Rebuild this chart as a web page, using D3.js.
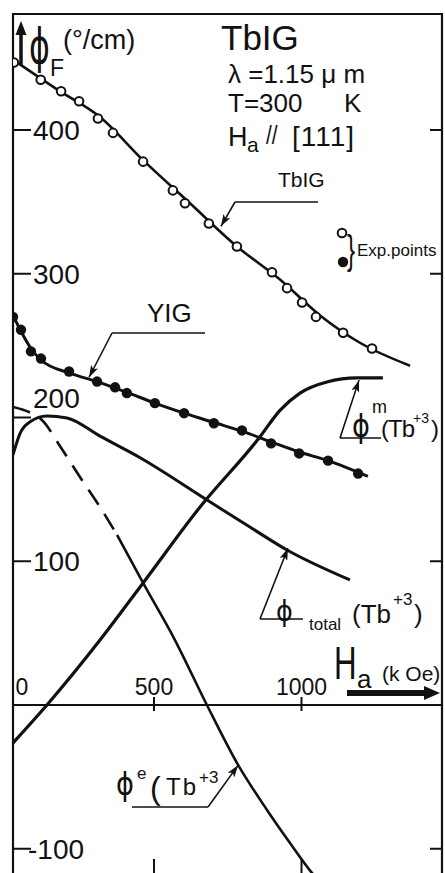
<!DOCTYPE html>
<html>
<head>
<meta charset="utf-8">
<script src="https://cdn.jsdelivr.net/npm/d3@7"></script>
<style>
  body { margin: 0; background: #fff; }
  text { font-family: "Liberation Sans", Arial, sans-serif; fill: #111; }
  .greek { font-family: "DejaVu Sans", sans-serif; }
</style>
</head>
<body>
<div id="chart"></div>
<script>
// ===========================================================
// DATA  (H in kOe, phi_F in deg/cm)
// ===========================================================
// TbIG experimental points (open circles)
var tbigH = [25, 116, 185, 246, 310, 361, 463, 564, 605, 686, 781, 900, 951, 1002, 1049, 1141, 1239];
var tbigV = [447, 435, 427, 420, 408, 398, 378, 358, 349, 335, 319, 301, 290, 280, 270, 259, 248];
// TbIG fitted curve
var tbigFitH = [22, 181, 317, 463, 622, 781, 927, 1063, 1198, 1368];
var tbigFitV = [449, 427, 409, 379, 349, 319, 296, 271, 252, 236];

// YIG experimental points (filled circles)
var yigH = [22, 49, 83, 117, 212, 307, 368, 408, 503, 602, 703, 798, 897, 992, 1090, 1192];
var yigV = [270, 261, 246, 241, 232, 225, 221, 217, 210, 203, 196, 191, 182, 175, 170, 161];
// YIG fitted curve
var yigFitH = [22, 49, 83, 117, 212, 307, 408, 503, 602, 703, 798, 897, 992, 1090, 1225];
var yigFitV = [271, 260, 248, 240, 231, 225, 217.5, 210, 203, 196.5, 190.5, 183, 176, 170, 159];

// phi total (Tb+3)
var totalH = [22, 46, 80, 137, 205, 317, 453, 680, 825, 951, 1164];
var totalV = [174, 189, 197, 201, 199.7, 187, 172, 142.6, 123.8, 107.8, 87];

// phi m (Tb+3)
var magH = [22, 137, 317, 463, 656, 856, 927, 995, 1086, 1188, 1276];
var magV = [-26.4, 0, 45.2, 84.9, 137.7, 185.7, 205, 217, 224.7, 227.5, 227.5];

// phi e (Tb+3): extrapolated part (dashed) and computed part (solid)
var elecDashH = [22, 90, 120, 181, 249, 317, 375];
var elecDashV = [207.3, 202.4, 198.3, 180.2, 158.6, 137.7, 118.3];
var elecH = [375, 463, 571, 676, 785, 883, 961, 1036, 1110];
var elecV = [118.3, 84.9, 45.2, 1.4, -41.7, -73, -96, -117, -134];

// tick labels
var yTicks = [400, 300, 200, 100, -100];
var yTicksRight = [400, 300, 100, -100];
var xTicks = [0, 500, 1000];

// ===========================================================
// SET UP
// ===========================================================
var svgWidth = 445;
var svgHeight = 873;
var frame = {left: 13, right: 442, top: 14, bottom: 885};

var svg = d3.select('#chart')
    .append('svg')
    .attr('width', svgWidth)
    .attr('height', svgHeight);

var x = d3.scaleLinear().domain([0, 1000]).range([6.5, 301.5]);
var y = d3.scaleLinear().domain([-100, 400]).range([848.75, 130]);

var defs = svg.append('defs');
defs.append('clipPath').attr('id', 'plotclip')
    .append('rect')
    .attr('x', frame.left).attr('y', frame.top)
    .attr('width', frame.right - frame.left).attr('height', frame.bottom - frame.top);

defs.append('marker')
    .attr('id', 'head')
    .attr('markerUnits', 'userSpaceOnUse')
    .attr('viewBox', '0 0 12 8')
    .attr('refX', 12).attr('refY', 4)
    .attr('markerWidth', 12).attr('markerHeight', 8)
    .attr('orient', 'auto')
    .append('path')
    .attr('d', 'M0,0 L12,4 L0,8 L3,4 Z')
    .attr('fill', '#111');

var zip = function(a, b) { return a.map(function(d, i) { return [d, b[i]]; }); };

var line = d3.line()
    .x(function(d) { return x(d[0]); })
    .y(function(d) { return y(d[1]); })
    .curve(d3.curveMonotoneX);

// text squeezed horizontally (hand lettering is narrow)
function narrowText(str, px, py, size, sx, sy, cls) {
    return svg.append('text')
        .attr('class', cls || null)
        .attr('transform', 'translate(' + px + ',' + py + ') scale(' + sx + ',' + sy + ')')
        .style('font-size', size + 'px')
        .text(str);
}

// ===========================================================
// FRAME & AXES
// ===========================================================
var axisG = svg.append('g').attr('stroke', '#111').attr('fill', 'none');
axisG.append('path')
    .attr('d', 'M' + frame.left + ',' + frame.bottom + 'V' + frame.top + 'H' + frame.right + 'V' + frame.bottom)
    .attr('stroke-width', 2.2);
// H axis at phi = 0
axisG.append('line')
    .attr('x1', frame.left).attr('x2', frame.right)
    .attr('y1', y(0)).attr('y2', y(0))
    .attr('stroke-width', 2);

// left ticks (inward)
axisG.selectAll('.lt').data(yTicks).enter().append('line')
    .attr('x1', frame.left).attr('x2', frame.left + 18)
    .attr('y1', function(d) { return y(d); }).attr('y2', function(d) { return y(d); })
    .attr('stroke-width', 2);
// right ticks (inward)
axisG.selectAll('.rt').data(yTicksRight).enter().append('line')
    .attr('x1', frame.right - 12).attr('x2', frame.right)
    .attr('y1', function(d) { return y(d); }).attr('y2', function(d) { return y(d); })
    .attr('stroke-width', 2);
// ticks crossing the H axis and at the bottom
axisG.selectAll('.xt').data(xTicks.slice(1)).enter().append('line')
    .attr('x1', function(d) { return x(d); }).attr('x2', function(d) { return x(d); })
    .attr('y1', y(0) - 8).attr('y2', y(0) + 6)
    .attr('stroke-width', 2);
axisG.selectAll('.bt').data(xTicks.slice(1)).enter().append('line')
    .attr('x1', function(d) { return x(d); }).attr('x2', function(d) { return x(d); })
    .attr('y1', 859).attr('y2', frame.bottom)
    .attr('stroke-width', 2);

// y tick labels
svg.selectAll('.ylab').data(yTicks).enter().append('text')
    .attr('x', function(d) { return d < 0 ? 28 : 33; })
    .attr('y', function(d) { return d === 200 ? y(d) - 10 : y(d) + 10; })
    .style('font-size', '28px')
    .text(function(d) { return d; });

// x tick labels
svg.selectAll('.xlab').data(xTicks).enter().append('text')
    .attr('x', function(d) { return d === 0 ? 22 : x(d); })
    .attr('y', y(0) - 10)
    .attr('text-anchor', 'middle')
    .style('font-size', '23px')
    .text(function(d) { return d; });

// vertical axis arrow + title
svg.append('line')
    .attr('x1', 21).attr('x2', 21).attr('y1', 65).attr('y2', 33)
    .attr('stroke', '#111').attr('stroke-width', 3.5);
svg.append('path').attr('d', 'M15.5,35 L21,21 L26.5,35 Z').attr('fill', '#111');
narrowText('ϕ', 29, 63, 44, 0.72, 1.1, 'greek');
svg.append('text').attr('x', 50).attr('y', 76).style('font-size', '23px').text('F');
svg.append('text').attr('x', 63).attr('y', 49).style('font-size', '27px').text('(°/cm)');

// horizontal axis title + arrow
narrowText('H', 334, 679, 46, 0.68, 1, null);
svg.append('text').attr('x', 357).attr('y', 688).style('font-size', '26px').text('a');
svg.append('text').attr('x', 382).attr('y', 681).style('font-size', '21px').text('(k Oe)');
svg.append('line')
    .attr('x1', 347).attr('x2', 426).attr('y1', 693).attr('y2', 693)
    .attr('stroke', '#111').attr('stroke-width', 6);
svg.append('path').attr('d', 'M424,686 L440,693 L424,700 Z').attr('fill', '#111');

// ===========================================================
// CURVES
// ===========================================================
var plot = svg.append('g').attr('clip-path', 'url(#plotclip)')
    .attr('fill', 'none').attr('stroke', '#111');

plot.append('path').attr('d', line(zip(tbigFitH, tbigFitV))).attr('stroke-width', 2.6);
plot.append('path').attr('d', line(zip(yigFitH, yigFitV))).attr('stroke-width', 3);
plot.append('path').attr('d', line(zip(totalH, totalV))).attr('stroke-width', 3);
plot.append('path').attr('d', line(zip(magH, magV))).attr('stroke-width', 3.2);
plot.append('path').attr('d', line(zip(elecDashH, elecDashV)))
    .attr('stroke-width', 2.6).attr('stroke-dasharray', '18,11');
plot.append('path').attr('d', line(zip(elecH, elecV))).attr('stroke-width', 2.6);

// experimental points
plot.selectAll('.tb').data(zip(tbigH, tbigV)).enter().append('circle')
    .attr('cx', function(d) { return x(d[0]); })
    .attr('cy', function(d) { return y(d[1]); })
    .attr('r', 4.3).attr('fill', '#fff').attr('stroke-width', 2);
plot.selectAll('.yg').data(zip(yigH, yigV)).enter().append('circle')
    .attr('cx', function(d) { return x(d[0]); })
    .attr('cy', function(d) { return y(d[1]); })
    .attr('r', 5.2).attr('fill', '#111').attr('stroke', 'none');

// ===========================================================
// LEADER LINES (tip on the curve, knee/end in pixels)
// ===========================================================
var leaders = [
    {H: 727, V: 333, knee: [235, 202], end: [318, 202]},
    {H: 280, V: 228, knee: [112, 333], end: [205, 333]},
    {H: 1195, V: 226, knee: [340, 438], end: [381, 438]},
    {H: 954, V: 109, knee: [260, 619], end: [303, 619]},
    {H: 785, V: -42, knee: [208, 807], end: [132, 807]}
];
var lg = svg.append('g').attr('fill', 'none').attr('stroke', '#111').attr('stroke-width', 1.6);
leaders.forEach(function(l) {
    lg.append('line').attr('x1', l.end[0]).attr('y1', l.end[1])
        .attr('x2', l.knee[0]).attr('y2', l.knee[1]);
    lg.append('line').attr('x1', l.knee[0]).attr('y1', l.knee[1])
        .attr('x2', x(l.H)).attr('y2', y(l.V))
        .attr('marker-end', 'url(#head)');
});

// ===========================================================
// LABELS
// ===========================================================
svg.append('text').attr('x', 221).attr('y', 50).style('font-size', '35px').text('TbIG');
svg.append('text').attr('x', 228).attr('y', 83).style('font-size', '26px')
    .style('white-space', 'pre').text('λ =1.15 μ m');
svg.append('text').attr('x', 228).attr('y', 112).style('font-size', '26px').text('T=300');
svg.append('text').attr('x', 344).attr('y', 112).style('font-size', '26px').text('K');
svg.append('text').attr('x', 228).attr('y', 146).style('font-size', '27px').text('H');
svg.append('text').attr('x', 247).attr('y', 152).style('font-size', '21px').text('a');
narrowText('//', 266, 144, 26, 0.8, 1, null);
svg.append('text').attr('x', 292).attr('y', 146).style('font-size', '28px')
    .style('letter-spacing', '1px').text('[111]');

svg.append('text').attr('x', 278).attr('y', 187).style('font-size', '21px').text('TbIG');
svg.append('text').attr('x', 147).attr('y', 322).style('font-size', '26px').text('YIG');

// Exp. points legend
svg.append('circle').attr('cx', 342).attr('cy', 233).attr('r', 4.3)
    .attr('fill', '#fff').attr('stroke', '#111').attr('stroke-width', 2);
svg.append('circle').attr('cx', 343).attr('cy', 262).attr('r', 5.2).attr('fill', '#111');
narrowText('}', 347, 264, 40, 0.6, 1, null);
svg.append('text').attr('x', 357).attr('y', 256).style('font-size', '17px').text('Exp.points');

// phi m (Tb+3)
narrowText('ϕ', 352, 437, 32, 0.85, 1, 'greek');
svg.append('text').attr('x', 372).attr('y', 413).style('font-size', '18px').text('m');
svg.append('text').attr('x', 381).attr('y', 437).style('font-size', '24px')
    .style('letter-spacing', '-1px').text('(Tb');
svg.append('text').attr('x', 413).attr('y', 423).style('font-size', '14px').text('+3');
svg.append('text').attr('x', 431).attr('y', 437).style('font-size', '24px').text(')');

// phi total (Tb+3)
narrowText('ϕ', 276, 621, 30, 0.85, 0.95, 'greek');
svg.append('text').attr('x', 309).attr('y', 630).style('font-size', '17px').text('total');
svg.append('text').attr('x', 352).attr('y', 623).style('font-size', '26px').text('(Tb');
svg.append('text').attr('x', 393).attr('y', 605).style('font-size', '17px').text('+3');
svg.append('text').attr('x', 414).attr('y', 623).style('font-size', '26px').text(')');

// phi e (Tb+3)
narrowText('ϕ', 116, 795, 32, 0.85, 1, 'greek');
svg.append('text').attr('x', 137).attr('y', 779).style('font-size', '17px').text('e');
svg.append('text').attr('x', 150).attr('y', 799).style('font-size', '32px').text('(');
svg.append('text').attr('x', 166).attr('y', 795).style('font-size', '24px')
    .style('letter-spacing', '2px').text('Tb');
svg.append('text').attr('x', 199).attr('y', 783).style('font-size', '17px').text('+3');
</script>
</body>
</html>
